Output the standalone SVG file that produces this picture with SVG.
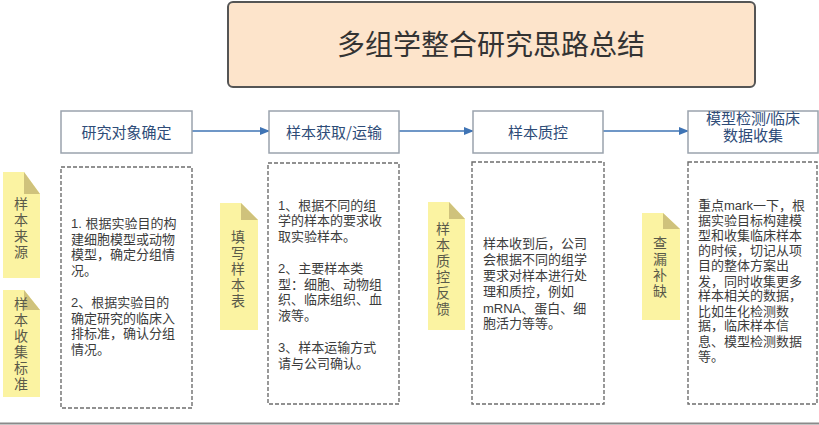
<svg xmlns="http://www.w3.org/2000/svg" width="819" height="425" viewBox="0 0 819 425">
<defs>
<marker id="arr" markerWidth="10" markerHeight="8" refX="9" refY="4" orient="auto" markerUnits="userSpaceOnUse">
<path d="M0,0 L10,4 L0,8 z" fill="#3f74b5"/>
</marker>
<style>
.t{font-family:"Noto Sans CJK SC","Liberation Sans",sans-serif}
.tl{font-family:"Liberation Sans","Noto Sans CJK SC",sans-serif}
.hdr{fill:#fff;stroke:#9aa3ad;stroke-width:1.5}
.htx{font-size:15px;fill:#2e4c78;text-anchor:middle}
.dash{fill:#fff;stroke:#6e6e6e;stroke-width:1.4;stroke-dasharray:4 2}
.btx{font-size:13px;fill:#3c3c3c}
.note{fill:#fbf3a2}
.fold{fill:#cfc27c}
.ntx{font-size:14px;fill:#5a5a4a;writing-mode:vertical-rl;letter-spacing:2px}
.con{stroke:#3f74b5;stroke-width:1.5;fill:none}
</style>
</defs>
<rect width="819" height="425" fill="#ffffff"/>
<line x1="0" y1="423.5" x2="819" y2="423.5" stroke="#8a8a8a" stroke-width="2"/>

<g id="title">
<rect x="228" y="2" width="527" height="85" rx="5" fill="#fde4cb" stroke="#555" stroke-width="2"/>
<text class="t" x="491" y="55" font-size="28" fill="#333" text-anchor="middle">多组学整合研究思路总结</text>
</g>

<g id="connectors">
<line class="con" x1="192" y1="131" x2="269" y2="131" marker-end="url(#arr)"/>
<line class="con" x1="399" y1="131" x2="473" y2="131" marker-end="url(#arr)"/>
<line class="con" x1="603" y1="131" x2="688" y2="131" marker-end="url(#arr)"/>
</g>

<g id="step1">
<rect class="hdr" x="61" y="111" width="131" height="42"/>
<text class="t htx" x="126.5" y="138">研究对象确定</text>
</g>
<g id="step2">
<rect class="hdr" x="269" y="111" width="130" height="42"/>
<text class="t htx" x="334" y="138">样本获取/运输</text>
</g>
<g id="step3">
<rect class="hdr" x="473" y="111" width="130" height="42"/>
<text class="t htx" x="538" y="138">样本质控</text>
</g>
<g id="step4">
<rect class="hdr" x="688" y="111" width="130" height="42"/>
<text class="tl htx" x="753" y="124">模型检测/临床</text>
<text class="tl htx" x="753" y="141">数据收集</text>
</g>

<g id="detail1">
<rect class="dash" x="61" y="167" width="131" height="241"/>
<text class="tl btx">
<tspan x="71" y="228">1. 根据实验目的构</tspan>
<tspan x="71" y="243.5">建细胞模型或动物</tspan>
<tspan x="71" y="259">模型，确定分组情</tspan>
<tspan x="71" y="274.5">况。</tspan>
<tspan x="71" y="307">2、根据实验目的</tspan>
<tspan x="71" y="322.5">确定研究的临床入</tspan>
<tspan x="71" y="338">排标准，确认分组</tspan>
<tspan x="71" y="353.5">情况。</tspan>
</text>
</g>
<g id="detail2">
<rect class="dash" x="268" y="163" width="131" height="241"/>
<text class="tl btx">
<tspan x="278" y="209.5">1、根据不同的组</tspan>
<tspan x="278" y="225">学的样本的要求收</tspan>
<tspan x="278" y="240.5">取实验样本。</tspan>
<tspan x="278" y="273">2、主要样本类</tspan>
<tspan x="278" y="288.5">型：细胞、动物组</tspan>
<tspan x="278" y="304">织、临床组织、血</tspan>
<tspan x="278" y="319.5">液等。</tspan>
<tspan x="278" y="352">3、样本运输方式</tspan>
<tspan x="278" y="368">请与公司确认。</tspan>
</text>
</g>
<g id="detail3">
<rect class="dash" x="472" y="162" width="132" height="242"/>
<text class="tl btx">
<tspan x="483" y="248">样本收到后，公司</tspan>
<tspan x="483" y="264">会根据不同的组学</tspan>
<tspan x="483" y="280">要求对样本进行处</tspan>
<tspan x="483" y="296">理和质控，例如</tspan>
<tspan x="483" y="312.5">mRNA、蛋白、细</tspan>
<tspan x="483" y="328">胞活力等等。</tspan>
</text>
</g>
<g id="detail4">
<rect class="dash" x="688" y="162" width="129" height="242"/>
<text class="tl btx">
<tspan x="698" y="209.5">重点mark一下，根</tspan>
<tspan x="698" y="224.5">据实验目标构建模</tspan>
<tspan x="698" y="239.5">型和收集临床样本</tspan>
<tspan x="698" y="255">的时候，切记从项</tspan>
<tspan x="698" y="270">目的整体方案出</tspan>
<tspan x="698" y="285.5">发，同时收集更多</tspan>
<tspan x="698" y="300">样本相关的数据，</tspan>
<tspan x="698" y="315.5">比如生化检测数</tspan>
<tspan x="698" y="330">据，临床样本信</tspan>
<tspan x="698" y="346">息、模型检测数据</tspan>
<tspan x="698" y="361">等。</tspan>
</text>
</g>

<g id="note1">
<path class="note" d="M3,172 H24 L40,194 V278 H3 Z"/>
<path class="fold" d="M24,172 L40,194 H24 Z"/>
<text class="t ntx" x="21" y="196.5">样本来源</text>
</g>
<g id="note2">
<path class="note" d="M3,290 H24 L40,310 V397 H3 Z"/>
<path class="fold" d="M24,290 L40,310 H24 Z"/>
<text class="t ntx" x="21" y="296.5">样本收集标准</text>
</g>
<g id="note3">
<path class="note" d="M220,203 H241 L258,220 V330 H220 Z"/>
<path class="fold" d="M241,203 L258,220 H241 Z"/>
<text class="t ntx" x="238" y="229.5">填写样本表</text>
</g>
<g id="note4">
<path class="note" d="M428,202 H449 L465,219 V330 H428 Z"/>
<path class="fold" d="M449,202 L465,219 H449 Z"/>
<text class="t ntx" x="443" y="222">样本质控反馈</text>
</g>
<g id="note5">
<path class="note" d="M642,213 H663 L680,229 V320 H642 Z"/>
<path class="fold" d="M663,213 L680,229 H663 Z"/>
<text class="t ntx" x="660" y="235.5">查漏补缺</text>
</g>
</svg>
